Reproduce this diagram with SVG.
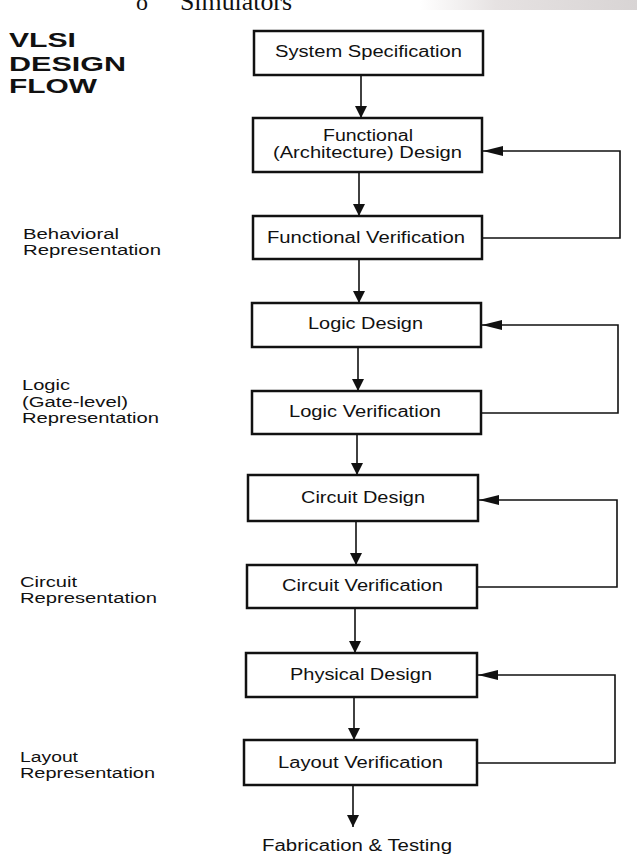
<svg xmlns="http://www.w3.org/2000/svg" width="637" height="855" viewBox="0 0 637 855">
<style>
.box{fill:#fff;stroke:#111;stroke-width:2.5}
.bt{font-family:"Liberation Sans",Arial,sans-serif;font-size:16px;fill:#111}
.lt{font-family:"Liberation Sans",Arial,sans-serif;font-size:14px;fill:#111}
.tt{font-family:"Liberation Sans",Arial,sans-serif;font-size:19.5px;font-weight:bold;fill:#111}
.cn{fill:none;stroke:#111;stroke-width:1.6}
</style>
<defs>
<marker id="av" markerUnits="userSpaceOnUse" markerWidth="12" markerHeight="15" refX="12" refY="6" orient="auto" viewBox="0 0 12 12"><path d="M0,0 L12,6 L0,12 z" fill="#111"/></marker>
<marker id="ah" markerUnits="userSpaceOnUse" markerWidth="20" markerHeight="10" refX="20" refY="5" orient="auto" viewBox="0 0 20 10"><path d="M0,0 L20,5 L0,10 z" fill="#111"/></marker>
<linearGradient id="smear" x1="0" y1="0" x2="1" y2="0">
<stop offset="0" stop-color="#fff"/>
<stop offset="0.35" stop-color="#e6e2e2"/>
<stop offset="1" stop-color="#d8d4d4"/>
</linearGradient>
</defs>
<rect width="637" height="855" fill="#fff"/>
<rect x="420" y="0" width="217" height="10" fill="url(#smear)"/>
<g id="topnote">
<text x="136" y="10" font-family="'Liberation Serif',serif" font-size="24" fill="#111">o</text>
<text x="180" y="10" font-family="'Liberation Serif',serif" font-size="26" fill="#111" textLength="112" lengthAdjust="spacingAndGlyphs">Simulators</text>
</g>
<g id="title">
<text class="tt" x="9" y="47" textLength="67" lengthAdjust="spacingAndGlyphs">VLSI</text>
<text class="tt" x="9" y="71" textLength="117" lengthAdjust="spacingAndGlyphs">DESIGN</text>
<text class="tt" x="9" y="93" textLength="88" lengthAdjust="spacingAndGlyphs">FLOW</text>
</g>
<g id="label-behavioral">
<text class="lt" x="23" y="239" textLength="96" lengthAdjust="spacingAndGlyphs">Behavioral</text>
<text class="lt" x="23" y="255" textLength="138" lengthAdjust="spacingAndGlyphs">Representation</text>
</g>
<g id="label-logic">
<text class="lt" x="22" y="390" textLength="48" lengthAdjust="spacingAndGlyphs">Logic</text>
<text class="lt" x="22" y="407" textLength="106" lengthAdjust="spacingAndGlyphs">(Gate-level)</text>
<text class="lt" x="22" y="423" textLength="137" lengthAdjust="spacingAndGlyphs">Representation</text>
</g>
<g id="label-circuit">
<text class="lt" x="20" y="587" textLength="57" lengthAdjust="spacingAndGlyphs">Circuit</text>
<text class="lt" x="20" y="603" textLength="137" lengthAdjust="spacingAndGlyphs">Representation</text>
</g>
<g id="label-layout">
<text class="lt" x="20" y="762" textLength="58" lengthAdjust="spacingAndGlyphs">Layout</text>
<text class="lt" x="20" y="778" textLength="135" lengthAdjust="spacingAndGlyphs">Representation</text>
</g>
<g id="connectors">
<line class="cn" x1="361" y1="75" x2="361" y2="118" marker-end="url(#av)"/>
<line class="cn" x1="359" y1="172" x2="359" y2="216" marker-end="url(#av)"/>
<line class="cn" x1="359" y1="259" x2="359" y2="303" marker-end="url(#av)"/>
<line class="cn" x1="358" y1="347" x2="358" y2="391" marker-end="url(#av)"/>
<line class="cn" x1="357" y1="434" x2="357" y2="475" marker-end="url(#av)"/>
<line class="cn" x1="356" y1="521" x2="356" y2="565" marker-end="url(#av)"/>
<line class="cn" x1="355" y1="608" x2="355" y2="653" marker-end="url(#av)"/>
<line class="cn" x1="354" y1="697" x2="354" y2="740" marker-end="url(#av)"/>
<line class="cn" x1="353" y1="785" x2="353" y2="827" marker-end="url(#av)"/>
<path class="cn" d="M482,238 H620 V151 H483" marker-end="url(#ah)"/>
<path class="cn" d="M481,413 H618 V325 H482" marker-end="url(#ah)"/>
<path class="cn" d="M477,587 H617 V500 H479" marker-end="url(#ah)"/>
<path class="cn" d="M477,763 H615 V675 H478" marker-end="url(#ah)"/>
</g>
<g id="system-specification">
<rect class="box" x="254" y="31" width="229" height="44"/>
<text class="bt" x="275" y="57" textLength="187" lengthAdjust="spacingAndGlyphs">System Specification</text>
</g>
<g id="functional-design">
<rect class="box" x="253" y="118" width="229" height="54"/>
<text class="bt" x="323" y="141" textLength="90" lengthAdjust="spacingAndGlyphs">Functional</text>
<text class="bt" x="273" y="158" textLength="189" lengthAdjust="spacingAndGlyphs">(Architecture) Design</text>
</g>
<g id="functional-verification">
<rect class="box" x="253" y="216" width="229" height="43"/>
<text class="bt" x="267" y="243" textLength="198" lengthAdjust="spacingAndGlyphs">Functional Verification</text>
</g>
<g id="logic-design">
<rect class="box" x="252" y="303" width="229" height="44"/>
<text class="bt" x="308" y="329" textLength="115" lengthAdjust="spacingAndGlyphs">Logic Design</text>
</g>
<g id="logic-verification">
<rect class="box" x="252" y="391" width="229" height="43"/>
<text class="bt" x="289" y="417" textLength="152" lengthAdjust="spacingAndGlyphs">Logic Verification</text>
</g>
<g id="circuit-design">
<rect class="box" x="248" y="475" width="230" height="46"/>
<text class="bt" x="301" y="503" textLength="124" lengthAdjust="spacingAndGlyphs">Circuit Design</text>
</g>
<g id="circuit-verification">
<rect class="box" x="247" y="565" width="230" height="43"/>
<text class="bt" x="282" y="591" textLength="161" lengthAdjust="spacingAndGlyphs">Circuit Verification</text>
</g>
<g id="physical-design">
<rect class="box" x="246" y="653" width="231" height="44"/>
<text class="bt" x="290" y="680" textLength="142" lengthAdjust="spacingAndGlyphs">Physical Design</text>
</g>
<g id="layout-verification">
<rect class="box" x="244" y="740" width="233" height="45"/>
<text class="bt" x="278" y="768" textLength="165" lengthAdjust="spacingAndGlyphs">Layout Verification</text>
</g>
<g id="fabrication-testing">
<text class="bt" x="262" y="851" textLength="190" lengthAdjust="spacingAndGlyphs">Fabrication &amp; Testing</text>
</g>
</svg>
